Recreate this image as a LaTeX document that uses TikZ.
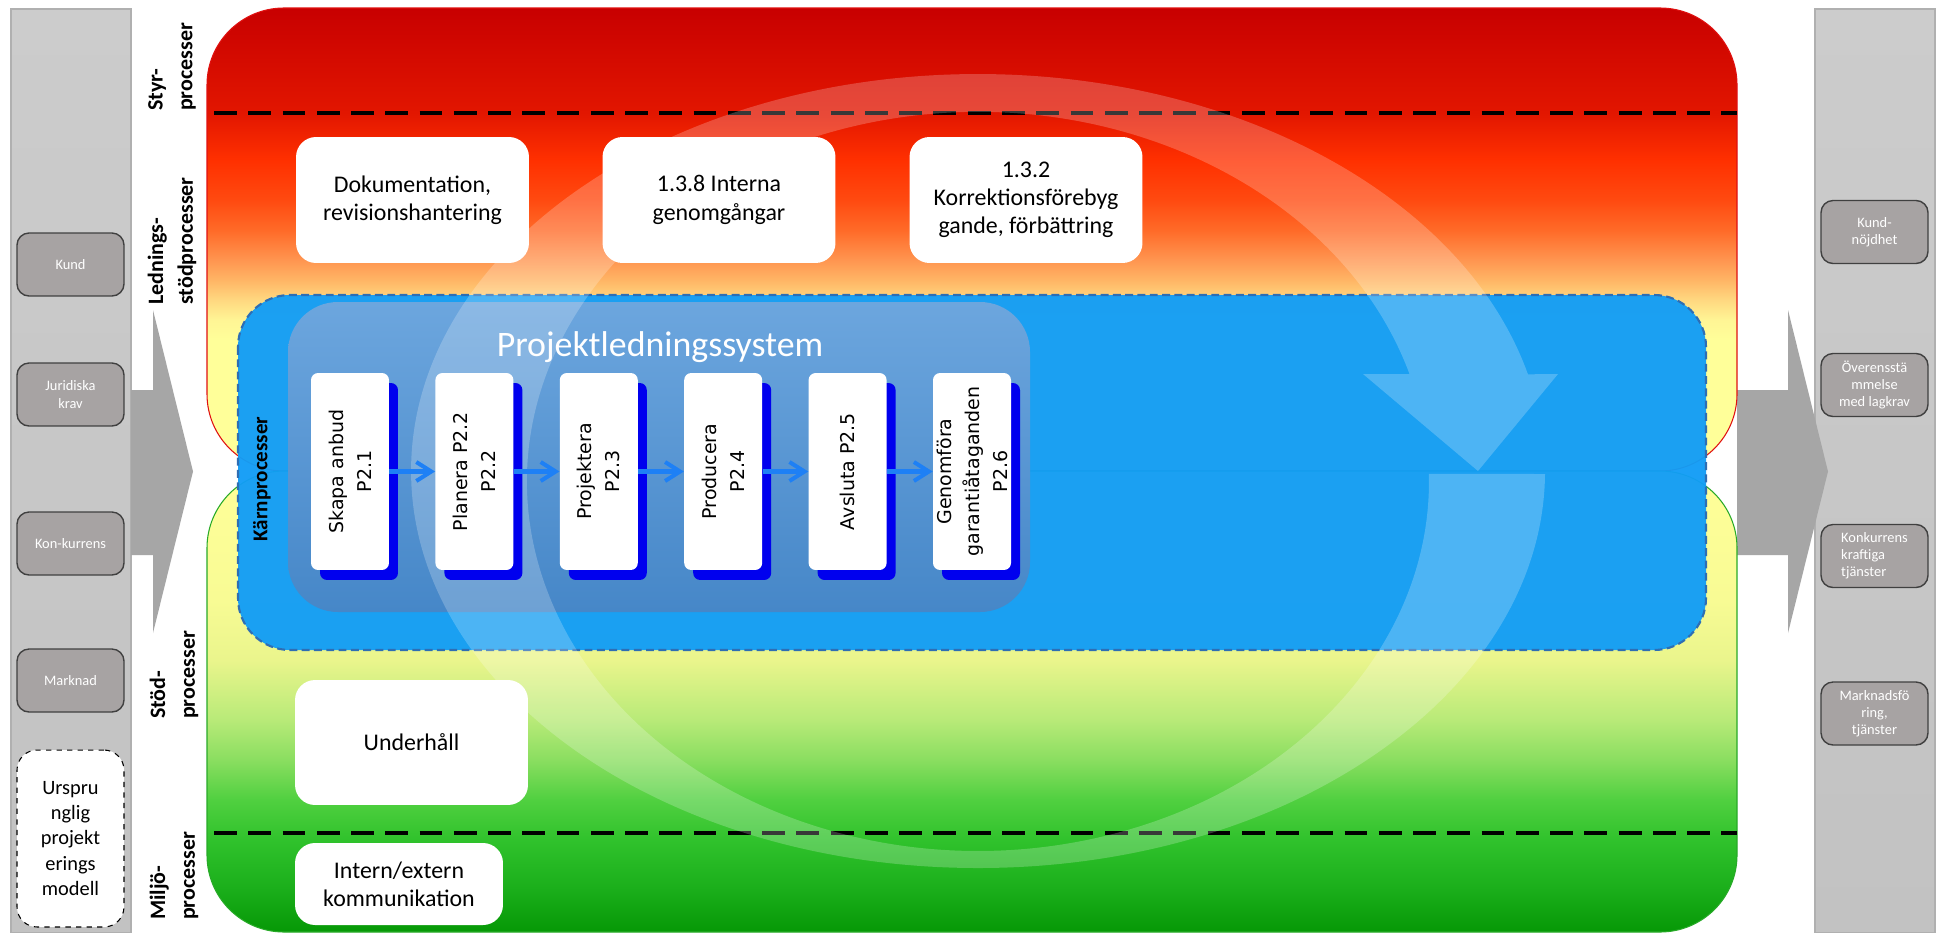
\documentclass[tikz,border=0pt]{standalone}
\usepackage{fontspec}
\setmainfont{Carlito}
\newfontfamily\procfont{DejaVu Sans}
\usepackage{xcolor}
\usepackage{tikz}
\usetikzlibrary{arrows.meta,shadows}

\definecolor{panelgrey}{RGB}{204,204,204}
\definecolor{panellow}{RGB}{194,194,194}
\definecolor{paneledge}{RGB}{176,176,176}
\definecolor{arrowgrey}{RGB}{166,166,166}
\definecolor{boxgrey}{RGB}{167,163,163}
\definecolor{boxedge}{RGB}{64,64,64}
\definecolor{kernblue}{RGB}{18,157,246}
\definecolor{kernedge}{RGB}{46,110,180}
\definecolor{systop}{RGB}{108,166,222}
\definecolor{sysbot}{RGB}{70,135,200}
\definecolor{procshade}{RGB}{0,0,238}
\definecolor{flowblue}{RGB}{30,128,245}
\definecolor{styredge}{RGB}{224,16,16}
\definecolor{stodedge}{RGB}{40,170,40}
% red to yellow, top to bottom
\definecolor{sy0}{RGB}{200,0,0}
\definecolor{sy1}{RGB}{226,22,0}
\definecolor{sy2}{RGB}{255,48,0}
\definecolor{sy3}{RGB}{255,74,16}
\definecolor{sy4}{RGB}{255,106,40}
\definecolor{sy5}{RGB}{255,149,80}
\definecolor{sy6}{RGB}{255,181,101}
\definecolor{sy7}{RGB}{255,216,128}
\definecolor{sy8}{RGB}{255,245,149}
\definecolor{sy9}{RGB}{255,255,153}
% yellow to green, top to bottom
\definecolor{gr0}{RGB}{255,255,153}
\definecolor{gr1}{RGB}{248,251,148}
\definecolor{gr2}{RGB}{234,245,140}
\definecolor{gr3}{RGB}{184,234,120}
\definecolor{gr4}{RGB}{138,222,96}
\definecolor{gr5}{RGB}{80,208,64}
\definecolor{gr6}{RGB}{48,194,44}
\definecolor{gr7}{RGB}{26,174,26}
\definecolor{gr8}{RGB}{6,152,6}

\pgfdeclareverticalshading{styrgrad}{100bp}{color(0bp)=(sy9); color(39.14bp)=(sy9);
  color(41.31bp)=(sy8); color(43.47bp)=(sy7); color(45.63bp)=(sy6); color(47.79bp)=(sy5);
  color(51.03bp)=(sy4); color(54.27bp)=(sy3); color(58.59bp)=(sy2); color(63.66bp)=(sy1);
  color(75bp)=(sy0); color(100bp)=(sy0)}
\pgfdeclareverticalshading{stodgrad}{100bp}{color(0bp)=(gr8); color(25bp)=(gr8);
  color(29.56bp)=(gr7); color(35bp)=(gr6); color(39.32bp)=(gr5); color(43.66bp)=(gr4);
  color(48bp)=(gr3); color(54.5bp)=(gr2); color(61bp)=(gr1); color(75bp)=(gr0);
  color(100bp)=(gr0)}

\tikzset{
  panel/.style={top color=panelgrey, bottom color=panellow, draw=paneledge, line width=0.6pt},
  bigarrow/.style={fill=arrowgrey},
  sectionline/.style={draw=black, line width=2.2pt, dash pattern=on 13pt off 6.5pt},
  kernframe/.style={fill=kernblue, fill opacity=0.96, draw=kernedge, line width=1.2pt,
    dash pattern=on 4.5pt off 2.5pt, rounded corners=1.04cm},
  ringband/.style={fill=white, fill opacity=0.22},
  whitebox/.style={fill=white, rounded corners=0.4cm, minimum width=4.66cm, minimum height=2.52cm,
    inner sep=0pt, align=center, font=\fontsize{13.6}{16.1}\selectfont},
  greybox/.style={fill=boxgrey, draw=boxedge, line width=0.8pt, rounded corners=0.24cm,
    minimum width=2.14cm, minimum height=1.26cm, inner sep=0pt, align=center, text=white,
    font=\fontsize{8.2}{9.8}\selectfont},
  procbox/.style={fill=white, rounded corners=0.14cm, minimum width=1.56cm, minimum height=3.94cm,
    general shadow={fill=procshade, shadow xshift=0.18cm, shadow yshift=-0.2cm}},
  proctext/.style={rotate=90, align=center, font=\procfont\fontsize{10.8}{15.9}\selectfont},
  sidelabel/.style={rotate=90, align=left, font=\bfseries\fontsize{12.5}{17}\selectfont},
  flowarrow/.style={draw=flowblue, line width=2.3pt, -{Straight Barb[length=0.3cm, width=0.38cm]}}
}

\begin{document}
\begin{tikzpicture}[x=0.02cm, y=-0.02cm]
\useasboundingbox (0,0) rectangle (1937,933);
\fill[white] (0,0) rectangle (1937,933);

% side panels and the input/output arrows
\draw[panel] (11,9) rectangle (131,933);
\draw[panel] (1815,9) rectangle (1935,933);
\fill[bigarrow] (131,390) -- (153,390) -- (153,310) -- (193,471.5) -- (153,633) -- (153,555) -- (131,555) -- cycle;
\fill[bigarrow] (1737,390) -- (1788,390) -- (1788,310) -- (1828,471.5) -- (1788,633) -- (1788,555) -- (1737,555) -- cycle;

% process bands
\shadedraw[shading=styrgrad, draw=styredge, line width=0.6pt, rounded corners=1.54cm] (207,8) rectangle (1737,471);
\shadedraw[shading=stodgrad, draw=stodedge, line width=0.6pt, rounded corners=1.54cm] (207,471) rectangle (1737,932);
\draw[sectionline] (214,113) -- (1737,113);
\draw[sectionline] (214,833) -- (1737,833);

\draw[kernframe] (238,295) rectangle (1706,650);
\shade[top color=systop, bottom color=sysbot, rounded corners=1cm] (288,302) rectangle (1030,612);
\node[text=white, font=\fontsize{20.4}{24}\selectfont] (systitle) at (660,347) {Projektledningssystem};

% circular arrow
\fill[ringband] (1545,474) arc[start angle=0.43, end angle=345.9, x radius=567, y radius=397]
  -- (1558,374) -- (1478,471) -- (1363,374) -- (1409.5,374)
  arc[start angle=343.1, end angle=-1.16, x radius=451, y radius=369.5] -- cycle;

\foreach \name/\txt [count=\i from 0] in {skapa/{Skapa anbud\\P2.1}, planera/{Planera P2.2\\P2.2},
    projektera/{Projektera\\P2.3}, producera/{Producera\\P2.4}, avsluta/{Avsluta P2.5},
    genomfora/{Genomföra\\garantiåtaganden\\P2.6}} {
  \node[procbox] (\name) at ({350+124.4*\i},471.5) {};
  \node[proctext] at (\name) {\txt};
}
\foreach \a/\b in {skapa/planera, planera/projektera, projektera/producera, producera/avsluta, avsluta/genomfora}
  \draw[flowarrow] (\a.east) -- (\b.west);

\node[whitebox] (dokumentation) at (412.5,200) {Dokumentation,\\revisionshantering};
\node[whitebox] (interna) at (719,200) {1.3.8 Interna\\genomgångar};
\node[whitebox] (korrektion) at (1026,200) {1.3.2\\Korrektionsförebyg\\gande, förbättring};
\node[whitebox, minimum height=2.5cm] (underhall) at (411.5,742.5) {Underhåll};
\node[whitebox, minimum width=4.16cm, minimum height=1.64cm] (kommunikation) at (399,884) {Intern/extern\\kommunikation};

\node[sidelabel] (styr) at (172,67) {Styr-\\processer};
\node[sidelabel] (ledning) at (172,241) {Lednings-\\stödprocesser};
\node[sidelabel, font=\bfseries\fontsize{12}{14}\selectfont] (karn) at (262,479) {Kärnprocesser};
\node[sidelabel] (stod) at (174,675) {Stöd-\\processer};
\node[sidelabel] (miljo) at (174,876) {Miljö-\\processer};

% inputs
\node[greybox] (kund) at (70.5,264.5) {Kund};
\node[greybox] (juridiska) at (70.5,394.5) {Juridiska\\krav};
\node[greybox] (konkurrens) at (70.5,543.5) {Kon-kurrens};
\node[greybox] (marknad) at (70.5,680.5) {Marknad};
\node[greybox, fill=white, draw=black, line width=0.6pt, dashed, text=black, rounded corners=0.4cm,
  minimum height=3.54cm, font=\fontsize{11.6}{14.5}\selectfont] (ursprung) at (70.5,838.5)
  {Urspru\\nglig\\projekt\\erings\\modell};

% outputs
\node[greybox] (nojdhet) at (1874.5,232) {Kund-\\nöjdhet};
\node[greybox] (lagkrav) at (1874.5,385) {Överensstä\\mmelse\\med lagkrav};
\node[greybox, align=left] (tjanster) at (1874.5,556) {Konkurrens\\kraftiga\\tjänster};
\node[greybox] (marknadsforing) at (1874.5,713.5) {Marknadsfö\\ring,\\tjänster};
\end{tikzpicture}
\end{document}
